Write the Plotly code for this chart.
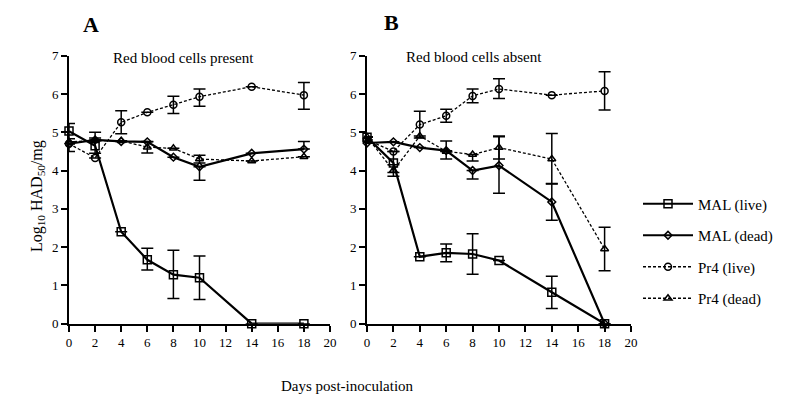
# -*- coding: utf-8 -*-
"""
Log10 HAD50/mg over days post-inoculation, panels A and B
"""

import plotly.graph_objects as go

# days sampled
days = [0, 2, 4, 6, 8, 10, 14, 18]

# panel A - red blood cells present
a_mal_live = [5.03, 4.65, 2.4, 1.67, 1.28, 1.2, 0, 0]
a_mal_live_up = [0.2, 0.2, None, 0.3, 0.64, 0.57, None, None]
a_mal_live_dn = [0.2, 0.2, None, 0.27, 0.62, 0.57, None, None]

a_mal_dead = [4.7, 4.8, 4.76, 4.75, 4.35, 4.1, 4.45, 4.56]
a_mal_dead_up = [None, 0.2, None, None, None, None, None, 0.2]
a_mal_dead_dn = [0.2, None, None, None, None, 0.35, None, None]

a_pr4_live = [4.7, 4.33, 5.26, 5.52, 5.72, 5.93, 6.19, 5.97]
a_pr4_live_up = [None, None, 0.3, None, 0.22, 0.2, None, 0.33]
a_pr4_live_dn = [None, None, 0.3, None, 0.23, 0.25, None, 0.37]

a_pr4_dead = [4.75, 4.78, 4.78, 4.61, 4.58, 4.3, 4.25, 4.36]
a_pr4_dead_up = [None, None, None, 0.15, None, 0.1, None, None]
a_pr4_dead_dn = [None, None, None, 0.15, None, 0.1, None, None]

# panel B - red blood cells absent
b_mal_live = [4.87, 4.2, 1.75, 1.85, 1.82, 1.65, 0.82, 0]
b_mal_live_up = [None, 0.3, None, 0.23, 0.53, None, 0.42, None]
b_mal_live_dn = [None, 0.25, None, 0.23, 0.53, None, 0.42, None]

b_mal_dead = [4.72, 4.75, 4.6, 4.52, 4.0, 4.13, 3.18, 0]
b_mal_dead_up = [None, None, None, 0.25, None, 0.75, 0.48, None]
b_mal_dead_dn = [None, None, None, None, 0.22, 0.72, 0.48, None]

b_pr4_live = [4.8, 4.5, 5.2, 5.43, 5.95, 6.13, 5.97, 6.08]
b_pr4_live_up = [None, None, 0.35, 0.17, 0.18, 0.27, None, 0.5]
b_pr4_live_dn = [None, None, 0.35, 0.17, 0.18, 0.25, None, 0.5]

b_pr4_dead = [4.88, 4.0, 4.9, 4.5, 4.42, 4.6, 4.3, 1.95]
b_pr4_dead_up = [None, 0.15, None, None, None, 0.3, 0.67, 0.57]
b_pr4_dead_dn = [None, 0.15, None, 0.2, 0.17, 0.3, 0.65, 0.57]

series_names = ['MAL (live)', 'MAL (dead)', 'Pr4 (live)', 'Pr4 (dead)']
tick_vals = list(range(0, 21, 2))

FONT = 'Liberation Serif'

# the page body has an 8px margin, so the figure is made 16px smaller
W, H, OFF = 784, 391, 8


def px_x(px):
    # page pixel -> paper x
    return (px - OFF) / W


def px_y(py):
    # page pixel -> paper y
    return 1 - (py - OFF) / H


# style per series: marker symbol, size, line dash, line width
styles = {
    'MAL (live)': dict(symbol='square-open', size=8, dash='solid', width=2.2),
    'MAL (dead)': dict(symbol='diamond-open', size=6, dash='solid', width=2.2),
    'Pr4 (live)': dict(symbol='circle-open', size=7, dash='3px,2px', width=1.3),
    'Pr4 (dead)': dict(symbol='triangle-up-open', size=7, dash='3px,2px', width=1.3),
}

panels = [
    ('x', 'y', [(a_mal_live, a_mal_live_up, a_mal_live_dn),
                (a_mal_dead, a_mal_dead_up, a_mal_dead_dn),
                (a_pr4_live, a_pr4_live_up, a_pr4_live_dn),
                (a_pr4_dead, a_pr4_dead_up, a_pr4_dead_dn)]),
    ('x2', 'y2', [(b_mal_live, b_mal_live_up, b_mal_live_dn),
                  (b_mal_dead, b_mal_dead_up, b_mal_dead_dn),
                  (b_pr4_live, b_pr4_live_up, b_pr4_live_dn),
                  (b_pr4_dead, b_pr4_dead_up, b_pr4_dead_dn)]),
]

fig = go.Figure()

for p, (xa, ya, series) in enumerate(panels):
    for name, (vals, up, dn) in zip(series_names, series):
        st = styles[name]
        fig.add_trace(go.Scatter(
            x=days, y=vals, xaxis=xa, yaxis=ya,
            mode='lines+markers', name=name,
            legendgroup=name, showlegend=(p == 1),
            line=dict(color='black', width=st['width'], dash=st['dash']),
            marker=dict(symbol=st['symbol'], size=st['size'], color='black',
                        line=dict(color='black', width=1.5)),
            error_y=dict(type='data', symmetric=False, array=up, arrayminus=dn,
                         color='black', thickness=1.5, width=6),
            cliponaxis=False,
        ))

axis_common = dict(range=[0, 20], tickvals=tick_vals, showline=True,
                   linecolor='black', linewidth=2, ticks='outside',
                   ticklen=6, tickwidth=2, tickcolor='black',
                   showgrid=False, zeroline=False,
                   tickfont=dict(family=FONT, size=13, color='black'))
yaxis_common = dict(range=[0, 7], dtick=1, showline=True,
                    linecolor='black', linewidth=2, ticks='outside',
                    ticklen=6, tickwidth=2, tickcolor='black',
                    showgrid=False, zeroline=False,
                    tickfont=dict(family=FONT, size=13, color='black'))

y_dom = [px_y(323.7), px_y(55.7)]


def label(text, x, y, size, **kw):
    return dict(text=text, x=px_x(x), y=px_y(y), xref='paper', yref='paper',
                xanchor='center', yanchor='middle', showarrow=False,
                font=dict(family=FONT, size=size, color='black'), **kw)


fig.update_layout(
    width=W, height=H,
    margin=dict(l=0, r=0, t=0, b=0, autoexpand=False),
    paper_bgcolor='white', plot_bgcolor='white',
    font=dict(family=FONT, color='black'),
    xaxis=dict(domain=[px_x(69), px_x(330)], anchor='y', **axis_common),
    yaxis=dict(domain=y_dom, anchor='x', **yaxis_common),
    xaxis2=dict(domain=[px_x(367), px_x(631)], anchor='y2', **axis_common),
    yaxis2=dict(domain=y_dom, anchor='x2', **yaxis_common),
    legend=dict(x=px_x(638), y=px_y(251), xanchor='left', yanchor='middle',
                font=dict(family=FONT, size=15, color='black'),
                tracegroupgap=9, itemwidth=50,
                bgcolor='rgba(0,0,0,0)'),
    annotations=[
        label('<b>A</b>', 91, 25, 22),
        label('<b>B</b>', 391, 23, 22),
        label('Red blood cells present', 183, 58, 15),
        label('Red blood cells absent', 474, 57, 15),
        label('Log<sub>10</sub> HAD<sub>50</sub>/mg', 37, 196, 16,
              textangle=-90),
        label('Days post-inoculation', 347, 386, 15),
    ],
)

fig.write_html("out.html")
